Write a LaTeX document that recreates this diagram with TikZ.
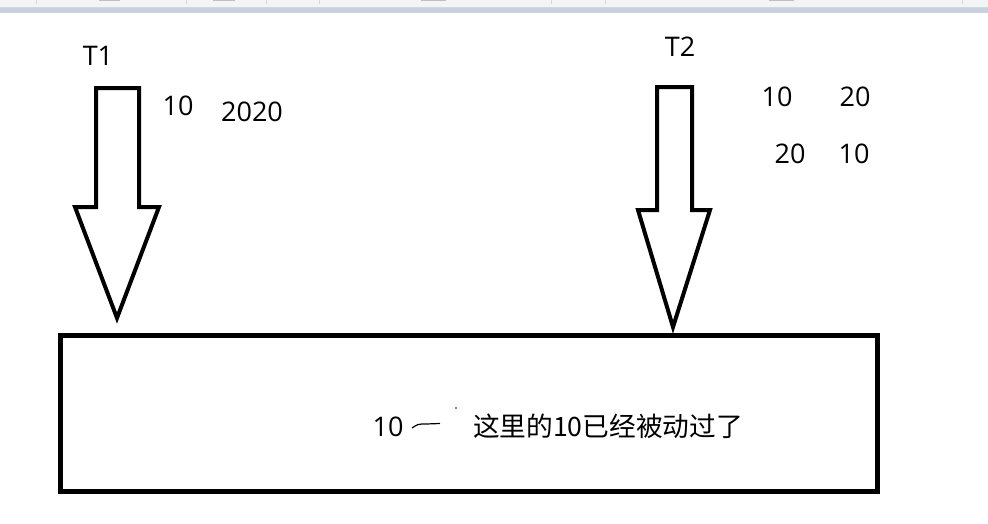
\documentclass[tikz,border=0pt]{standalone}
\usepackage{fontspec}
\setmainfont{Open Sans}
\newfontfamily\cjkfont{Noto Sans CJK SC}
\definecolor{stripgray}{HTML}{F3F4F6}
\definecolor{stripblue}{HTML}{C9D1E1}
\definecolor{sepgray}{HTML}{D4D7DC}
\begin{document}
\begin{tikzpicture}[x=1pt,y=-1pt,
  every node/.style={inner sep=0pt},
  lbl/.style={font=\fontsize{27}{30}\selectfont, anchor=base},
  cjklbl/.style={font=\cjkfont\fontsize{26.7}{30}\selectfont, anchor=base},
  bigarrow/.style={draw=black, line width=4pt, fill=white},
  boxstyle/.style={draw=black, line width=5pt}]
\useasboundingbox (0,0) rectangle (988,523);
\fill[white] (0,0) rectangle (988,523);
% window strip at the top
\fill[stripgray] (0,0) rectangle (988,7);
\fill[stripblue] (0,8) rectangle (988,13);
\draw[sepgray, line width=0.8pt] (0,7.5) -- (988,7.5);
\foreach \sx in {36,186,266,319,551,605,962}
  \draw[sepgray, line width=0.8pt] (\sx,0) -- (\sx,4);
\foreach \sx/\ex in {99/120,213/235,421/446,769/794}
  \fill[gray!50] (\sx,0) rectangle (\ex,1.2);
% database box
\draw[boxstyle] (60,335) rectangle (877,491);
% arrows
\draw[bigarrow] (96,88) -- (139,88) -- (139,207) -- (159,207) -- (117,318)
  -- (75,207) -- (96,207) -- cycle;
\draw[bigarrow] (657,87) -- (692,87) -- (692,210) -- (710,210) -- (673,327)
  -- (638,210) -- (657,210) -- cycle;
% labels
\node[lbl] (t1) at (98,65) {T1};
\node[lbl] (t1a) at (178,115) {10};
\node[lbl] (t1b) at (252,121.5) {2020};
\node[lbl] (t2) at (680,56) {T2};
\node[lbl] (r1a) at (777,106) {10};
\node[lbl] (r1b) at (855,106) {20};
\node[lbl] (r2a) at (790,163) {20};
\node[lbl] (r2b) at (854,163) {10};
\node[lbl] (b10) at (388,436) {10};
\draw[black, line width=1.2pt] (412,428) .. controls (418,424) .. (426,424) -- (440,423.5);
\fill[black] (456,408) circle (0.8);
\node[cjklbl] (note) at (608,436) {这里的10已经被动过了};
\end{tikzpicture}
\end{document}
